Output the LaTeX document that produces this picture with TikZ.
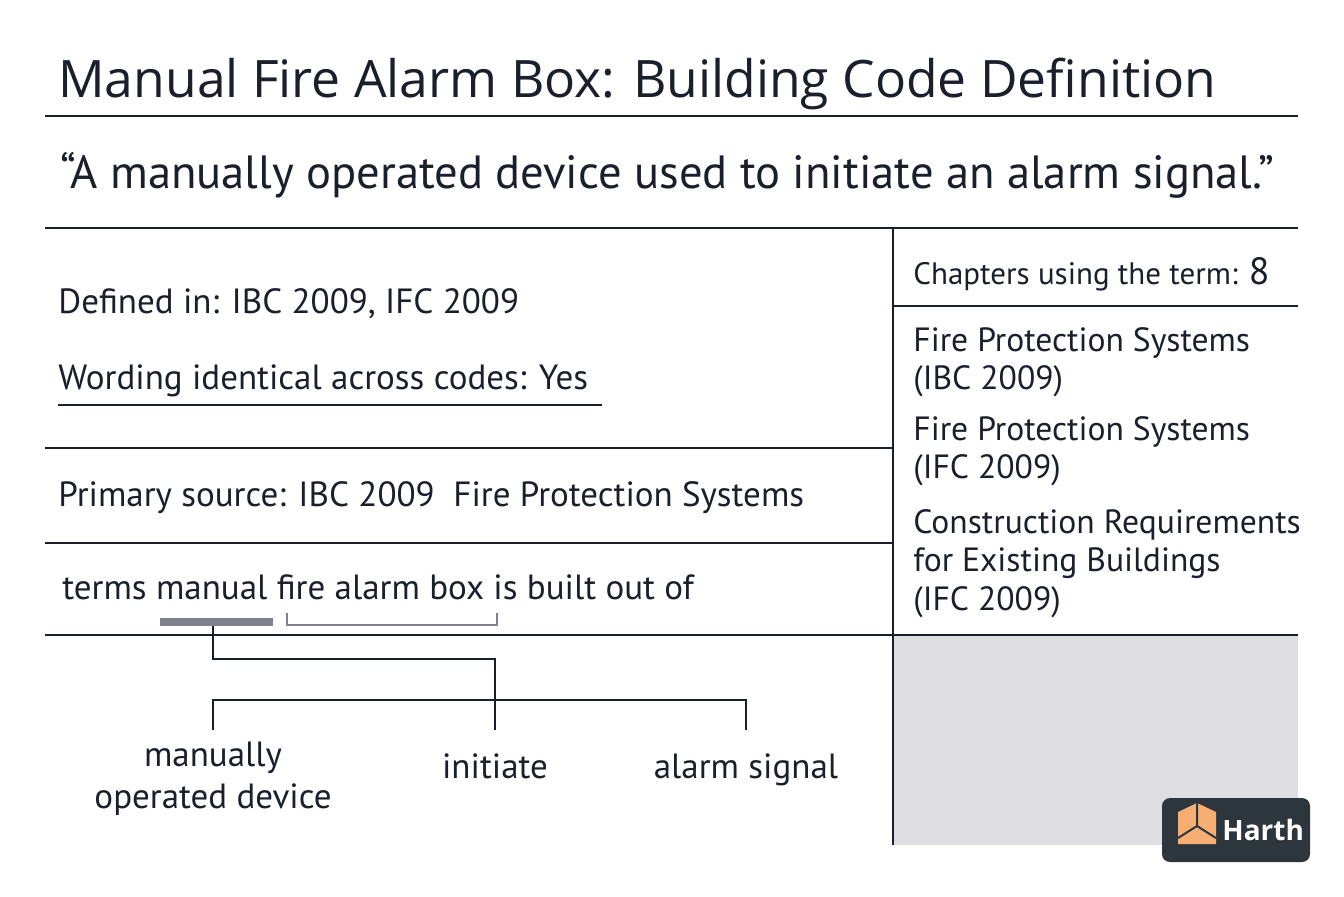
\documentclass[tikz,border=0pt]{standalone}
\usepackage{fontspec}
\setmainfont{PT Sans}
\newfontfamily\titlefont{Open Sans}
\usetikzlibrary{positioning}
\definecolor{inkc}{HTML}{1B1E2B}
\definecolor{panelc}{HTML}{DDDDE2}
\definecolor{barc}{HTML}{7F7F8E}
\definecolor{logoc}{HTML}{2D363D}
\definecolor{cubec}{HTML}{F6AE72}
\tikzset{
  rule/.style={draw=inkc, line width=0.8pt},
  txt/.style={anchor=base west, inner sep=0pt, text=inkc, font=\fontsize{17.5}{20}\selectfont},
  side/.style={txt, font=\fontsize{16.8}{20}\selectfont},
  lbl/.style={anchor=north, inner sep=0pt, text=inkc, font=\fontsize{17.5}{21}\selectfont, align=center},
  link/.style={draw=inkc, line width=0.6pt}
}
\begin{document}
\begin{tikzpicture}[x=0.5pt,y=-0.5pt]
    \useasboundingbox[fill=white] (0,0) rectangle (1344,896);
    % header
    \node[txt, font=\titlefont\fontsize{25.8}{30}\selectfont] (title) at (58,97) {Manual Fire Alarm Box: Building Code Definition};
    \draw[rule] (45,116) -- (1298,116);
    \node[txt, font=\fontsize{23.3}{26}\selectfont] (quote) at (60,188) {“A manually operated device used to initiate an alarm signal.”};
    \draw[rule] (45,228) -- (1298,228);
    % grey panel and grid
    \fill[panelc] (893,635) rectangle (1298,845);
    \draw[rule] (893,228) -- (893,845);
    \draw[rule] (45,448) -- (893,448);
    \draw[rule] (45,543) -- (893,543);
    \draw[rule] (45,635) -- (1298,635);
    \draw[rule] (893,306) -- (1298,306);
    % left column
    \node[txt] (defined) at (58,313) {Defined in: IBC 2009, IFC 2009};
    \node[txt] (wording) at (58,389) {Wording identical across codes: Yes};
    \draw[rule] (58,405) -- (602,405);
    \node[txt] (primary) at (58,506) {Primary source: IBC 2009\ \ Fire Protection Systems};
    \node[txt] (terms) at (62,599) {terms manual fire alarm box is built out of};
    % right column
    \node[txt, font=\fontsize{15.5}{18}\selectfont] (chapters) at (913,284) {Chapters using the term: {\fontsize{19}{20}\selectfont 8}};
    \node[side] (ch1) at (913,351) {Fire Protection Systems};
    \node[side] (ch1b) at (913,389) {(IBC 2009)};
    \node[side] (ch2) at (913,440) {Fire Protection Systems};
    \node[side] (ch2b) at (913,478) {(IFC 2009)};
    \node[side] (ch3) at (913,533) {Construction Requirements};
    \node[side] (ch3b) at (913,571) {for Existing Buildings};
    \node[side] (ch3c) at (913,610) {(IFC 2009)};
    % term markers
    \fill[barc] (160,618) rectangle (273,626);
    \coordinate (bar) at (213,626);
    \draw[barc, line width=1.2pt] (287,613) -- (287,625) -- (497,625) -- (497,613);
    % tree
    \coordinate (hub) at (495,700);
    \coordinate (leafa) at (213,730);
    \coordinate (leafb) at (495,730);
    \coordinate (leafc) at (746,730);
    \node[lbl] (manually) at (213,742) {manually\\operated device};
    \node[lbl] (initiate) at (495,753) {initiate};
    \node[lbl] (alarm) at (746,753) {alarm signal};
    \draw[link] (bar) -- (213,659) -| (leafb);
    \draw[link] (leafa) |- (hub) -| (leafc);
    % logo
    \node[fill=logoc, rounded corners=4pt, minimum width=74pt, minimum height=32pt, inner sep=0pt] (logo) at (1236,830) {};
    \fill[cubec] (1178,812) -- (1197,803) -- (1216,812) -- (1216,844) -- (1178,844) -- cycle;
    \draw[logoc, line width=1pt] (1197,803) -- (1197,826) -- (1178,838) (1197,826) -- (1216,838);
    \node[anchor=west, inner sep=0pt, text=white, font=\titlefont\bfseries\fontsize{14}{16}\selectfont] (brand) at (1222,830) {Harth};
\end{tikzpicture}
\end{document}
